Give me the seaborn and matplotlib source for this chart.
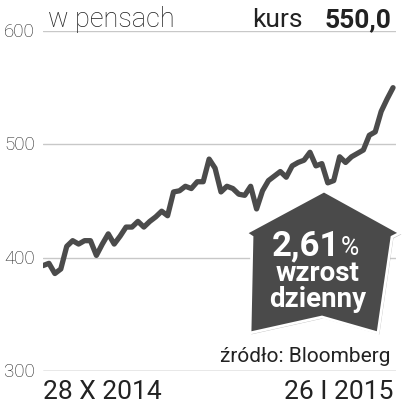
"""
Kurs akcji w pensach, 28 X 2014 - 26 I 2015 (Bloomberg).
"""
import numpy as np
import pandas as pd
import matplotlib
matplotlib.use("Agg")
import matplotlib.pyplot as plt
import matplotlib.patheffects as pe
from matplotlib.patches import Polygon
import seaborn as sns

sns.set_theme(style="white")
plt.rcParams["font.family"] = ["Liberation Sans Narrow", "Roboto", "DejaVu Sans"]

# --- data ---
prices = [393, 395, 386, 390, 410, 415, 412, 415, 415, 402,
          412, 421, 412, 419, 427, 427, 432, 427, 432, 436,
          441, 437, 458, 459, 463, 461, 467, 467, 487, 479,
          458, 463, 461, 456, 455, 463, 443, 459, 468, 472,
          476, 471, 481, 484, 486, 493, 481, 483, 466, 468,
          489, 484, 489, 492, 495, 508, 511, 529, 540, 550]
y_ticks = [300, 400, 500, 600]
start_label = "28 X 2014"
end_label = "26 I 2015"
last_price = "550,0"
change = "2,61"

df = pd.DataFrame({"day": np.arange(len(prices)), "price": prices})

W, H = 407, 406
fig = plt.figure(figsize=(W / 100, H / 100), dpi=100)
ax = fig.add_axes([43 / W, 1 - 372 / H, 353 / W, 340 / H])

for v in y_ticks[1:]:
    ax.axhline(v, color="#c8c8c8", lw=1.0, zorder=0)
ax.axhline(y_ticks[0], color="#8a8a8a", lw=1.0, zorder=0)

sns.lineplot(data=df, x="day", y="price", ax=ax, color="#4b4b4b",
             lw=3.8, solid_joinstyle="round", solid_capstyle="round")

ax.set_xlim(0, len(prices) - 1 + 0.5)
ax.set_ylim(300, 600)
ax.set_xticks([])
ax.set_yticks([])
ax.set_xlabel("")
ax.set_ylabel("")
for s in ax.spines.values():
    s.set_visible(False)

# y labels
for v in y_ticks:
    ax.text(-0.023, (v - 300) / 300, str(v), transform=ax.transAxes,
            ha="right", va="center", fontsize=13.5, color="#1e1e1e",
            family=["Roboto", "DejaVu Sans"], fontweight="light")

# header
fig.text(48 / W, 1 - 27 / H, "w pensach", ha="left", va="baseline",
         fontsize=19.5, color="#1e1e1e", family=["Roboto", "DejaVu Sans"],
         fontweight="light")
fig.text(303 / W, 1 - 27 / H, "kurs", ha="right", va="baseline",
         fontsize=19, color="#222222")
fig.text(391 / W, 1 - 27 / H, last_price, ha="right", va="baseline",
         fontsize=19, color="#222222", fontweight="bold")

# dates
fig.text(43 / W, 1 - 399 / H, start_label, ha="left", va="baseline",
         fontsize=19, color="#222222", family=["Roboto", "DejaVu Sans"])
fig.text(393 / W, 1 - 399 / H, end_label, ha="right", va="baseline",
         fontsize=19, color="#222222", family=["Roboto", "DejaVu Sans"])

fig.text(391 / W, 1 - 362 / H, "źródło: Bloomberg", ha="right", va="baseline",
         fontsize=15, color="#222222")

# arrow badge
pts = [(324, 192), (400, 234), (392, 238), (378, 334), (322, 318),
       (250, 334), (252, 238), (246, 234)]
badge = Polygon([(x / W, 1 - y / H) for x, y in pts], closed=True,
                transform=fig.transFigure, facecolor="#4a4a4a",
                edgecolor="white", lw=2, zorder=5,
                path_effects=[pe.SimplePatchShadow(offset=(1, -1), alpha=0.3),
                              pe.Normal()])
fig.add_artist(badge)
fig.text(340 / W, 1 - 255 / H, change, ha="right", va="baseline",
         fontsize=25, color="white", fontweight="bold", zorder=6)
fig.text(341 / W, 1 - 255 / H, "%", ha="left", va="baseline",
         fontsize=18, color="white", zorder=6)
fig.text(318 / W, 1 - 281 / H, "wzrost", ha="center", va="baseline",
         fontsize=20, color="white", fontweight="bold", zorder=6)
fig.text(318 / W, 1 - 307 / H, "dzienny", ha="center", va="baseline",
         fontsize=20, color="white", fontweight="bold", zorder=6)

fig.savefig("out.png", dpi=100)
